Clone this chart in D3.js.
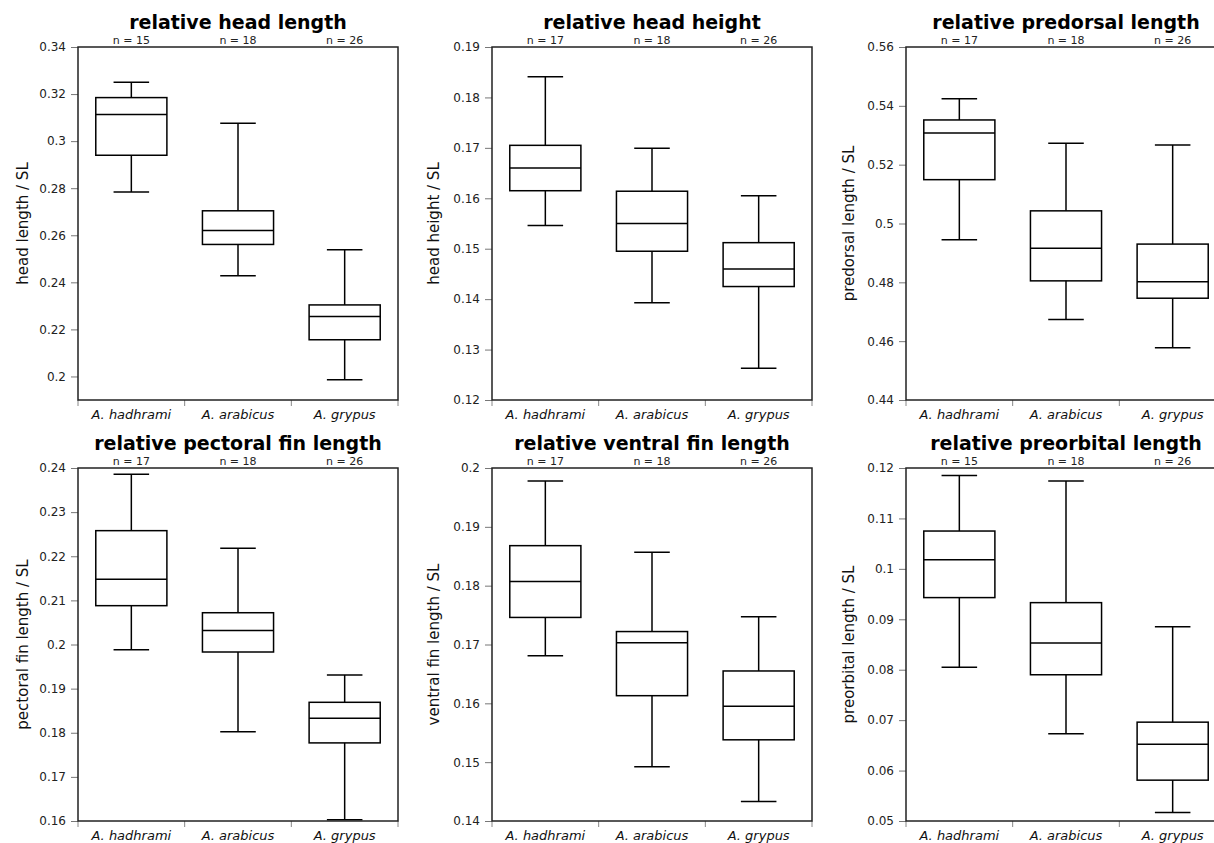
<!DOCTYPE html>
<html>
<head>
<meta charset="utf-8">
<script src="https://cdn.jsdelivr.net/npm/d3@7"></script>
<style>
  body { margin: 0; background: #fff; }
  svg { display: block; font-family: "DejaVu Sans", sans-serif; }
</style>
</head>
<body>
<svg id="chart" width="1214" height="843"></svg>
<script>
// species on every panel
var species = ["A. hadhrami", "A. arabicus", "A. grypus"];

var titles = ["relative head length", "relative head height", "relative predorsal length",
              "relative pectoral fin length", "relative ventral fin length", "relative preorbital length"];
var yLabels = ["head length / SL", "head height / SL", "predorsal length / SL",
               "pectoral fin length / SL", "ventral fin length / SL", "preorbital length / SL"];
var nCounts = [[15, 18, 26], [17, 18, 26], [17, 18, 26],
               [17, 18, 26], [17, 18, 26], [15, 18, 26]];

// y domain [min, max] per panel
var yDomains = [[0.19, 0.34], [0.12, 0.19], [0.44, 0.56],
                [0.16, 0.24], [0.14, 0.20], [0.05, 0.12]];
var yTicks = [
  [0.2, 0.22, 0.24, 0.26, 0.28, 0.3, 0.32, 0.34],
  [0.12, 0.13, 0.14, 0.15, 0.16, 0.17, 0.18, 0.19],
  [0.44, 0.46, 0.48, 0.5, 0.52, 0.54, 0.56],
  [0.16, 0.17, 0.18, 0.19, 0.2, 0.21, 0.22, 0.23, 0.24],
  [0.14, 0.15, 0.16, 0.17, 0.18, 0.19, 0.2],
  [0.05, 0.06, 0.07, 0.08, 0.09, 0.1, 0.11, 0.12]
];

// [low whisker, q1, median, q3, high whisker] per species
var headLength   = [[0.2784, 0.2940, 0.3113, 0.3185, 0.3250],
                    [0.2428, 0.2561, 0.2620, 0.2704, 0.3076],
                    [0.1986, 0.2156, 0.2255, 0.2304, 0.2538]];
var headHeight   = [[0.1546, 0.1615, 0.1660, 0.1705, 0.1841],
                    [0.1393, 0.1495, 0.1550, 0.1614, 0.1699],
                    [0.1263, 0.1425, 0.1460, 0.1512, 0.1605]];
var predorsal    = [[0.4945, 0.5149, 0.5308, 0.5352, 0.5424],
                    [0.4674, 0.4805, 0.4916, 0.5043, 0.5273],
                    [0.4578, 0.4746, 0.4802, 0.4930, 0.5267]];
var pectoralFin  = [[0.1988, 0.2088, 0.2148, 0.2258, 0.2386],
                    [0.1802, 0.1983, 0.2032, 0.2072, 0.2218],
                    [0.1603, 0.1777, 0.1833, 0.1869, 0.1931]];
var ventralFin   = [[0.1681, 0.1746, 0.1807, 0.1868, 0.1978],
                    [0.1492, 0.1613, 0.1703, 0.1722, 0.1857],
                    [0.1433, 0.1538, 0.1595, 0.1655, 0.1747]];
var preorbital   = [[0.0805, 0.0943, 0.1018, 0.1075, 0.1185],
                    [0.0673, 0.0790, 0.0853, 0.0933, 0.1174],
                    [0.0517, 0.0581, 0.0652, 0.0696, 0.0885]];

var panelStats = [headLength, headHeight, predorsal, pectoralFin, ventralFin, preorbital];

var svg = d3.select("#chart");

var colLeft = [78, 492, 906],
    rowTop = [47, 468],
    labelX = [23, 434, 849],
    pw = 320, ph = 353;

var fmt = function(d) { return String(+d.toFixed(3)); };

panelStats.forEach(function(stats, i) {
  var col = i % 3, row = Math.floor(i / 3);
  var g = svg.append("g").attr("transform", "translate(" + colLeft[col] + "," + rowTop[row] + ")");

  var x = d3.scaleBand().domain(species).range([0, pw]);
  var y = d3.scaleLinear().domain(yDomains[i]).range([ph, 0]);

  // y axis
  var yAxis = g.append("g").call(d3.axisLeft(y).tickValues(yTicks[i]).tickFormat(fmt).tickSize(7).tickPadding(5));
  yAxis.select(".domain").remove();
  yAxis.selectAll(".tick line").attr("stroke", "#777").attr("stroke-width", 1);
  yAxis.selectAll(".tick text").attr("font-size", 12).attr("fill", "#222")
      .attr("font-family", "DejaVu Sans");

  // x ticks sit on band edges
  var edges = species.map(function(s) { return x(s); }).concat([pw]);
  g.selectAll(".xtick").data(edges).enter().append("line")
      .attr("x1", function(d) { return d; }).attr("x2", function(d) { return d; })
      .attr("y1", ph).attr("y2", ph + 6)
      .attr("stroke", "#888").attr("stroke-width", 1);

  g.selectAll(".xlab").data(species).enter().append("text")
      .attr("x", function(d) { return x(d) + x.bandwidth() / 2; })
      .attr("y", ph + 19)
      .attr("text-anchor", "middle")
      .attr("font-size", 13).attr("font-style", "italic").attr("fill", "#111")
      .text(function(d) { return d; });

  // n labels
  g.selectAll(".nlab").data(nCounts[i]).enter().append("text")
      .attr("x", function(d, j) { return x(species[j]) + x.bandwidth() / 2; })
      .attr("y", -3.5)
      .attr("text-anchor", "middle")
      .attr("font-size", 11).attr("fill", "#222")
      .text(function(d) { return "n = " + d; });

  // title
  g.append("text")
      .attr("x", pw / 2).attr("y", -18)
      .attr("text-anchor", "middle")
      .attr("font-size", 19).attr("font-weight", "bold").attr("fill", "#000")
      .text(titles[i]);

  // y label
  svg.append("text")
      .attr("transform", "translate(" + labelX[col] + "," + (rowTop[row] + ph / 2) + ") rotate(-90)")
      .attr("dy", "0.35em")
      .attr("text-anchor", "middle")
      .attr("font-size", 15).attr("fill", "#111")
      .text(yLabels[i]);

  // boxes
  var bw = x.bandwidth();
  var boxes = g.selectAll(".box").data(stats).enter().append("g")
      .attr("transform", function(d, j) { return "translate(" + (x(species[j]) + bw / 2) + ",0)"; });

  boxes.append("line")
      .attr("x1", 0).attr("x2", 0)
      .attr("y1", function(d) { return y(d[4]); }).attr("y2", function(d) { return y(d[3]); })
      .attr("stroke", "#000").attr("stroke-width", 1.5);
  boxes.append("line")
      .attr("x1", 0).attr("x2", 0)
      .attr("y1", function(d) { return y(d[1]); }).attr("y2", function(d) { return y(d[0]); })
      .attr("stroke", "#000").attr("stroke-width", 1.5);
  boxes.append("line")
      .attr("x1", -bw / 6).attr("x2", bw / 6)
      .attr("y1", function(d) { return y(d[4]); }).attr("y2", function(d) { return y(d[4]); })
      .attr("stroke", "#000").attr("stroke-width", 1.5);
  boxes.append("line")
      .attr("x1", -bw / 6).attr("x2", bw / 6)
      .attr("y1", function(d) { return y(d[0]); }).attr("y2", function(d) { return y(d[0]); })
      .attr("stroke", "#000").attr("stroke-width", 1.5);
  boxes.append("rect")
      .attr("x", -bw / 3).attr("width", bw * 2 / 3)
      .attr("y", function(d) { return y(d[3]); })
      .attr("height", function(d) { return y(d[1]) - y(d[3]); })
      .attr("fill", "none").attr("stroke", "#000").attr("stroke-width", 1.5);
  boxes.append("line")
      .attr("x1", -bw / 3).attr("x2", bw / 3)
      .attr("y1", function(d) { return y(d[2]); }).attr("y2", function(d) { return y(d[2]); })
      .attr("stroke", "#000").attr("stroke-width", 1.5);

  // frame
  g.append("rect")
      .attr("width", pw).attr("height", ph)
      .attr("fill", "none").attr("stroke", "#222").attr("stroke-width", 1.5);
});
</script>
</body>
</html>
